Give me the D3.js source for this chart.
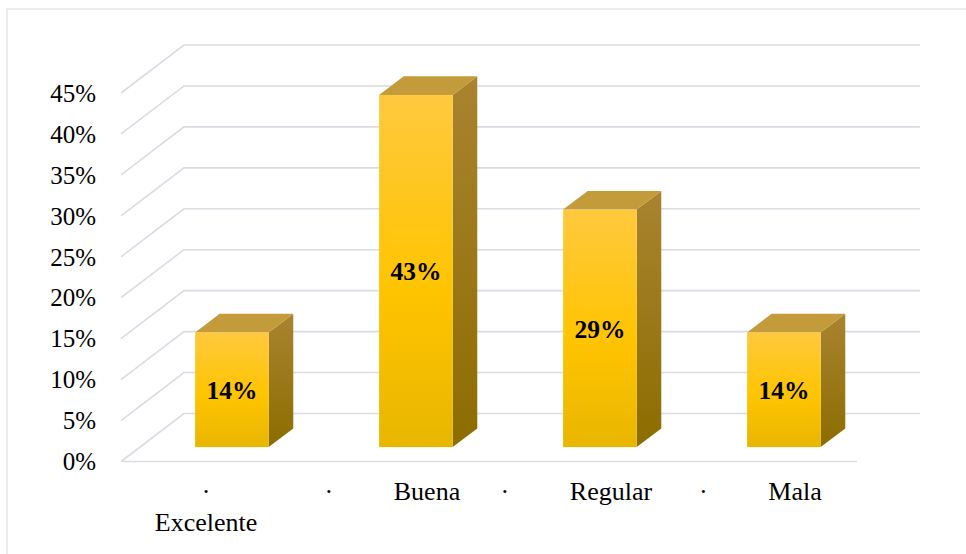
<!DOCTYPE html>
<html>
<head>
<meta charset="utf-8">
<script src="https://cdn.jsdelivr.net/npm/d3@7"></script>
<style>
  html, body { margin: 0; padding: 0; background: #fff; }
  svg { display: block; }
</style>
</head>
<body>
<svg id="chart" width="966" height="554"></svg>
<script>
// Survey results: rating distribution
const categories = ["Excelente", "Buena", "Regular", "Mala"];
const values = [14, 43, 29, 14];
const yTicks = [0, 5, 10, 15, 20, 25, 30, 35, 40, 45];
const tickLabels = ["0%", "5%", "10%", "15%", "20%", "25%", "30%", "35%", "40%", "45%"];

const FONT = '"Liberation Serif", "Times New Roman", Times, serif';
const svg = d3.select("#chart");

// Oblique projection of the depth axis (z in 0..1)
const depthX = 63, depthY = 48;
const proj = (x, y, z) => [x + z * depthX, y - z * depthY];

const x = d3.scaleBand().domain(categories).range([121, 857]).paddingInner(0.6).paddingOuter(0.3);
const band = d3.scaleBand().domain(categories).range([121, 857]);
const y = d3.scaleLinear().domain([0, 45]).range([461.5, 93]);

// Outer frame
svg.append("rect")
  .attr("x", 7).attr("y", 9).attr("width", 980).attr("height", 570)
  .attr("fill", "none").attr("stroke", "#d9d9d9").attr("stroke-width", 1);

// Gradients
const defs = svg.append("defs");
const gFront = defs.append("linearGradient").attr("id", "front").attr("x1", 0).attr("y1", 0).attr("x2", 0).attr("y2", 1);
gFront.append("stop").attr("offset", "0%").attr("stop-color", "#ffc93e");
gFront.append("stop").attr("offset", "55%").attr("stop-color", "#ffc400");
gFront.append("stop").attr("offset", "100%").attr("stop-color", "#e8b600");
const gSide = defs.append("linearGradient").attr("id", "side").attr("x1", 0).attr("y1", 0).attr("x2", 0).attr("y2", 1);
gSide.append("stop").attr("offset", "0%").attr("stop-color", "#a98330");
gSide.append("stop").attr("offset", "100%").attr("stop-color", "#8c6d00");

// Gridlines: back wall, left wall and floor
const grid = svg.append("g").attr("stroke", "#d9dce3").attr("stroke-width", 1.6).attr("fill", "none");
const x0 = band.range()[0], x1 = band.range()[1];
yTicks.forEach(t => {
  const f = proj(x0, y(t), 0), b = proj(x0, y(t), 1), be = proj(x1, y(t), 1);
  grid.append("path").attr("d", d3.line()([f, b, be]));
});
grid.append("line")
  .attr("x1", x0).attr("x2", x1).attr("y1", y(0)).attr("y2", y(0));

// Y axis tick labels
svg.append("g").selectAll("text").data(yTicks).join("text")
  .attr("x", 96).attr("y", d => y(d)).attr("dy", "0.35em")
  .attr("text-anchor", "end").attr("fill", "#000")
  .style("font-family", FONT).style("font-size", "25px")
  .text((d, i) => tickLabels[i]);

// 3D columns
const zFront = 0.3, zBack = 0.69;
const bars = svg.append("g");
categories.forEach((c, i) => {
  const v = values[i];
  const [xl, yb] = proj(x(c), y(0), zFront);
  const [xr] = proj(x(c) + x.bandwidth(), y(0), zFront);
  const yt = proj(0, y(v), zFront)[1];
  const dx = (zBack - zFront) * depthX, dy = (zBack - zFront) * depthY;
  const g = bars.append("g");
  g.append("path")
    .attr("d", d3.line()([[xr, yt], [xr + dx, yt - dy], [xr + dx, yb - dy], [xr, yb]]) + "Z")
    .attr("fill", "url(#side)");
  g.append("path")
    .attr("d", d3.line()([[xl, yt], [xl + dx, yt - dy], [xr + dx, yt - dy], [xr, yt]]) + "Z")
    .attr("fill", "#c49b3a");
  g.append("rect")
    .attr("x", xl).attr("y", yt).attr("width", xr - xl).attr("height", yb - yt)
    .attr("fill", "url(#front)");
  g.append("text")
    .attr("x", (xl + xr) / 2).attr("y", (yt + yb) / 2).attr("dy", "0.36em")
    .attr("text-anchor", "middle").attr("fill", "#000")
    .style("font-family", FONT).style("font-size", "25.5px").style("font-weight", "bold")
    .text(v + "%");
});

// Category labels: bullet, tab gap, then the name (wraps under the bullet when too wide)
const catG = svg.append("g");
const tabGap = 65;
categories.forEach(c => {
  const cx = band(c) + band.bandwidth() / 2 - 4;
  const word = catG.append("text").attr("fill", "#000")
    .style("font-family", FONT).style("font-size", "26px").text(c);
  const w = word.node().getComputedTextLength();
  const dot = catG.append("text").attr("fill", "#000").attr("text-anchor", "middle")
    .style("font-family", FONT).style("font-size", "26px").text("·");
  const total = 3 + tabGap + w;
  if (total > band.bandwidth() * 0.88) {
    dot.attr("x", cx - 3).attr("y", 500);
    word.attr("x", cx - 3).attr("y", 531).attr("text-anchor", "middle");
  } else {
    const left = cx - total / 2;
    dot.attr("x", left + 3).attr("y", 500);
    word.attr("x", left + 3 + tabGap).attr("y", 500);
  }
});
</script>
</body>
</html>
